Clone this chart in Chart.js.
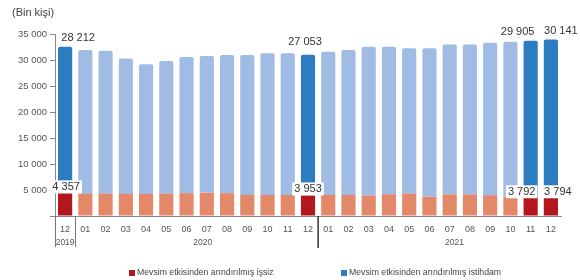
<!DOCTYPE html>
<html>
<head>
<meta charset="utf-8">
<script src="https://cdn.jsdelivr.net/npm/chart.js@4"></script>
<style>
  body { margin: 0; background: #fff; font-family: "Liberation Sans", Arial, sans-serif; }
  #wrap { position: relative; width: 580px; height: 280px; }
  #unit { position: absolute; left: 12px; top: 6px; font-size: 11px; color: #444; }
  .leg { position: absolute; top: 267px; font-size: 8.7px; color: #444; white-space: nowrap; }
  .leg i { display: inline-block; width: 6px; height: 6px; margin-right: 2px; vertical-align: -1px; }
</style>
</head>
<body>
<div id="wrap">
  <canvas id="chart"></canvas>
  <div id="unit">(Bin kişi)</div>
  <div class="leg" style="left:129px"><i style="background:#b3161c"></i>Mevsim etkisinden arındırılmış işsiz</div>
  <div class="leg" style="left:341px"><i style="background:#2b7cc0"></i>Mevsim etkisinden arındırılmış istihdam</div>
</div>
<script>
const months = ['12','01','02','03','04','05','06','07','08','09','10','11','12',
                '01','02','03','04','05','06','07','08','09','10','11','12'];
const years = ['2019', '2020', '2021'];
const yearStart = [0, 1, 13];
const yearEnd = [0, 12, 24];

// bin kişi
const unemployed = [4357, 4300, 4300, 4250, 4250, 4300, 4400, 4500, 4400, 4050, 4050, 4050, 3953,
                    4050, 4050, 3950, 4200, 4300, 3700, 4150, 4150, 4000, 3750, 3792, 3794];
const employed = [28212, 27600, 27500, 26050, 24950, 25500, 26200, 26250, 26550, 26900, 27250, 27250, 27053,
                  27550, 27850, 28600, 28350, 27950, 28550, 28850, 28850, 29300, 29750, 29905, 30141];
const highlighted = [0, 12, 23, 24];

const yTicks = [0, 5000, 10000, 15000, 20000, 25000, 30000, 35000];

// label nudges (px) for the highlighted bars
const empNudge = [[13, 9], [-3, 13], [-13, 9], [10, 9]];
const uneNudge = [[1, 6], [0, 6], [-9, 4], [7, 4]];

const fmt = v => String(v).replace(/\B(?=(\d{3})+(?!\d))/g, ' ');
const isHi = i => highlighted.includes(i);

const labelPlugin = {
  id: 'labels',
  afterDatasetsDraw(chart) {
    const ctx = chart.ctx;
    const mU = chart.getDatasetMeta(0), mE = chart.getDatasetMeta(1);
    ctx.save();
    ctx.font = '11px "Liberation Sans", Arial, sans-serif';
    ctx.textAlign = 'center';
    ctx.textBaseline = 'middle';
    highlighted.forEach((i, k) => {
      const b = mE.data[i];
      const x = b.x + empNudge[k][0], y = b.y - empNudge[k][1];
      const t = fmt(employed[i]);
      const w = ctx.measureText(t).width + 4;
      ctx.fillStyle = 'rgba(255,255,255,0.85)';
      ctx.fillRect(x - w / 2, y - 7, w, 14);
      ctx.fillStyle = '#333';
      ctx.fillText(t, x, y);

      const u = mU.data[i];
      const ux = u.x + uneNudge[k][0], uy = u.y - uneNudge[k][1];
      const ut = fmt(unemployed[i]);
      const uw = ctx.measureText(ut).width + 4;
      ctx.fillStyle = '#fff';
      ctx.fillRect(ux - uw / 2, uy - 7, uw, 13);
      ctx.fillStyle = '#333';
      ctx.fillText(ut, ux, uy);
    });
    ctx.restore();
  },
  afterDraw(chart) {
    const ctx = chart.ctx, xs = chart.scales.x, area = chart.chartArea;
    const step = xs.getPixelForValue(1) - xs.getPixelForValue(0);
    ctx.save();
    // box round 2019 and separator before 2021
    ctx.strokeStyle = '#777';
    ctx.lineWidth = 1;
    ctx.beginPath();
    const b1 = Math.round(xs.getPixelForValue(0) + step / 2) + 0.5;
    ctx.moveTo(area.left + 0.5, area.bottom); ctx.lineTo(area.left + 0.5, area.bottom + 31);
    ctx.moveTo(b1, area.bottom); ctx.lineTo(b1, area.bottom + 31);
    ctx.stroke();
    ctx.strokeStyle = '#333';
    ctx.lineWidth = 1.5;
    ctx.beginPath();
    const b2 = xs.getPixelForValue(12) + step / 2;
    ctx.moveTo(b2, area.bottom); ctx.lineTo(b2, area.bottom + 32);
    ctx.stroke();
    // year labels
    ctx.font = '8.5px "Liberation Sans", Arial, sans-serif';
    ctx.fillStyle = '#555';
    ctx.textAlign = 'center';
    ctx.textBaseline = 'middle';
    const yearNudge = [0, 6, 15];
    years.forEach((y, k) => {
      const cx = (xs.getPixelForValue(yearStart[k]) + xs.getPixelForValue(yearEnd[k])) / 2;
      ctx.fillText(y, cx + yearNudge[k], area.bottom + 27);
    });
    ctx.restore();
  }
};

new Chart(document.getElementById('chart'), {
  type: 'bar',
  data: {
    labels: months,
    datasets: [
      {
        label: 'Mevsim etkisinden arındırılmış işsiz',
        data: unemployed,
        backgroundColor: ctx => isHi(ctx.dataIndex) ? '#b3161c' : '#e4886a',
        stack: 's'
      },
      {
        label: 'Mevsim etkisinden arındırılmış istihdam',
        data: employed,
        backgroundColor: ctx => isHi(ctx.dataIndex) ? '#2b7cc0' : '#a0bce4',
        borderRadius: { topLeft: 2, topRight: 2 },
        borderSkipped: 'bottom',
        stack: 's'
      }
    ]
  },
  options: {
    responsive: true,
    maintainAspectRatio: false,
    animation: false,
    layout: { padding: { top: 34, right: 19, left: 0, bottom: 0 } },
    datasets: { bar: { categoryPercentage: 1, barPercentage: 0.7 } },
    plugins: { legend: { display: false }, tooltip: { enabled: false } },
    scales: {
      x: {
        stacked: true,
        grid: { display: false },
        border: { display: true, color: '#888' },
        ticks: { color: '#555', font: { size: 9 }, padding: 0, maxRotation: 0, autoSkip: false },
        afterFit: s => { s.height = 64; }
      },
      y: {
        stacked: true,
        min: 0,
        max: 35000,
        afterBuildTicks: s => { s.ticks = yTicks.map(v => ({ value: v })); },
        grid: { drawOnChartArea: false, tickLength: 5, color: '#888' },
        border: { display: true, color: '#888' },
        ticks: {
          color: '#555',
          font: { size: 9.5 },
          padding: 3,
          callback: v => v === 0 ? '' : fmt(v)
        },
        afterFit: s => { s.width = 55; }
      }
    }
  },
  plugins: [labelPlugin]
});
</script>
</body>
</html>
